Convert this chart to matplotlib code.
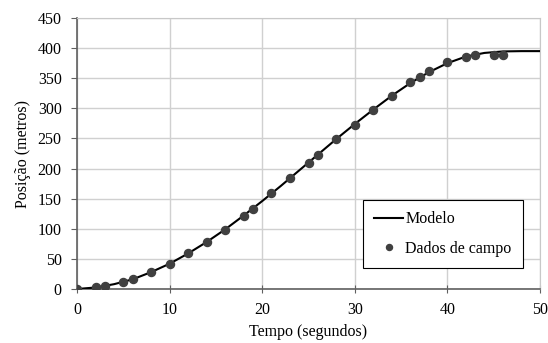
import matplotlib
matplotlib.use("Agg")
from matplotlib import pyplot as plt

# field data (seconds, metres)
t_data = [0, 2, 3, 5, 6, 8, 10, 12, 14, 16, 18, 19, 21, 23, 25, 26, 28, 30,
          32, 34, 36, 37, 38, 40, 42, 43, 45, 46]
pos_data = [0, 3, 5, 12, 17, 28, 42, 59, 78, 98, 121, 133, 159, 185, 210, 223,
            249, 273, 298, 321, 343, 352, 362, 377, 386, 388, 388, 388]

# model curve
t_model = [0, 2, 4, 6, 8, 10, 12, 14, 16, 18, 20, 22, 24, 26, 28, 30, 32, 34,
           36, 38, 40, 42, 44, 46, 48, 50]
pos_model = [0, 2.5, 8, 16, 28, 42, 59, 78, 99, 122, 146, 171, 197, 223, 249,
             274, 298, 321, 342, 360, 375, 386, 392, 394.5, 395, 395]

plt.rcParams['font.family'] = ['Liberation Serif', 'DejaVu Serif']
plt.rcParams['font.size'] = 11.5

fig = plt.figure(figsize=(5.48, 3.43), dpi=100)
ax = fig.add_axes([77/548, 1 - 289/343, 463/548, 271/343])

ax.plot(t_model, pos_model, color='black', lw=1.5, label='Modelo', zorder=3)
ax.plot(t_data, pos_data, 'o', color='#404040', ms=5.8, label='Dados de campo', zorder=4)

ax.set_xlim(0, 50)
ax.set_ylim(0, 450)
ax.set_xticks(range(0, 51, 10))
ax.set_yticks(range(0, 451, 50))
ax.grid(color='#d0d0d0', lw=1)
ax.set_axisbelow(True)
for s in ['top', 'right']:
    ax.spines[s].set_color('#c8c8c8')
for s in ['left', 'bottom']:
    ax.spines[s].set_color('#606060')
    ax.spines[s].set_linewidth(1.2)
ax.tick_params(axis='y', colors='#606060', labelcolor='black', length=4, pad=7)
ax.tick_params(axis='x', colors='#606060', labelcolor='black', direction='inout',
               length=6, pad=6)

ax.set_xlabel('Tempo (segundos)', labelpad=5)
ax.set_ylabel('Posição (metros)', labelpad=5)

leg = ax.legend(loc='lower right', bbox_to_anchor=(0.963, 0.0775), fancybox=False,
                edgecolor='black', framealpha=1, fontsize=11.5, handlelength=1.8,
                handletextpad=0.15, borderpad=0.7, labelspacing=0.85,
                markerscale=0.75, borderaxespad=0)
leg.get_frame().set_linewidth(0.8)

fig.savefig('out.png', dpi=100)
